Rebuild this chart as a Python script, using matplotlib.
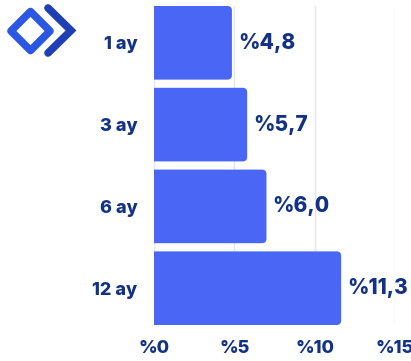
import matplotlib
matplotlib.use("Agg")
import matplotlib.pyplot as plt
from matplotlib.patches import FancyBboxPatch, Polygon
from matplotlib.lines import Line2D

categories = ["1 ay", "3 ay", "6 ay", "12 ay"]
bar_values = [4.85, 5.8, 7.0, 11.65]
value_labels = ["%4,8", "%5,7", "%6,0", "%11,3"]
x_ticks = [0, 5, 10, 15]
x_tick_labels = ["%0", "%5", "%10", "%15"]

BAR = "#4a66f5"
TXT = "#123187"
GRID = "#e4e4f2"
FONT = ["Inter", "DejaVu Sans"]
WEIGHT = 800

W, H = 411, 361
fig = plt.figure(figsize=(W / 100, H / 100), dpi=100)
ax = fig.add_axes([154 / W, 1 - 325 / H, (395 - 154) / W, (325 - 6) / H])

ypos = list(range(len(categories)))
bars = ax.barh(ypos, bar_values, height=0.9, color=BAR)
ax.set_xlim(0, 15)
ax.set_ylim(len(categories) - 0.55, -0.45)

# Rounded right corners
px_x = (395 - 154) / 15.0
px_y = (325 - 6) / 3.9
r_px = 4.5
for b in bars:
    b.set_visible(False)
    x0, y0 = b.get_x(), b.get_y()
    w, h = b.get_width(), b.get_height()
    rs = r_px / px_x
    p = FancyBboxPatch((x0 - 1.0, y0), w + 1.0, h,
                       boxstyle=f"round,pad=0,rounding_size={rs}",
                       mutation_aspect=(r_px / px_y) / rs,
                       facecolor=BAR, edgecolor="none", zorder=2)
    ax.add_patch(p)

for i, (v, lab) in enumerate(zip(bar_values, value_labels)):
    ax.annotate(lab, (v, i), xytext=(4.5, 0), textcoords="offset points",
                ha="left", va="center", fontsize=15, fontweight=WEIGHT,
                color=TXT, family=FONT)

ax.set_xticks(x_ticks)
ax.set_xticklabels(x_tick_labels, fontsize=13, fontweight=WEIGHT, color=TXT, family=FONT)
ax.set_yticks(ypos)
ax.set_yticklabels(categories, fontsize=13, fontweight=WEIGHT, color=TXT, family=FONT)
ax.tick_params(axis="both", length=0)
ax.tick_params(axis="x", pad=11)
ax.tick_params(axis="y", pad=12)
for s in ax.spines.values():
    s.set_visible(False)
ax.xaxis.grid(True, color=GRID, linewidth=1.0, zorder=0)
ax.set_axisbelow(True)

# Logo
lax = fig.add_axes([0, 0, 1, 1])
lax.set_xlim(0, W)
lax.set_ylim(H, 0)
lax.axis("off")
diamond = Polygon([(11, 31), (30.5, 11.5), (50, 31), (30.5, 50.5)],
                  closed=True, fill=False, edgecolor="#2a57e3", linewidth=5.5,
                  joinstyle="round")
lax.add_patch(diamond)
lax.add_line(Line2D([48, 71, 48], [8, 30.5, 53], color="#1e40b4", linewidth=5.5,
                    solid_capstyle="round", solid_joinstyle="miter"))

fig.savefig("out.png", dpi=100)
